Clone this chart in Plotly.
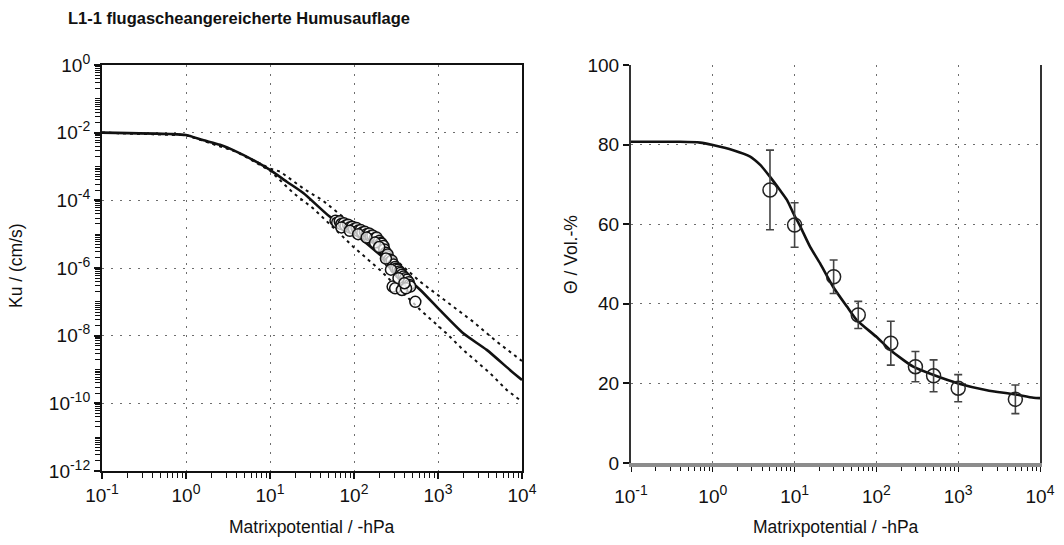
import numpy as np
import plotly.graph_objects as go

# ---------------- data ----------------
# Unsaturated conductivity Ku(h): fitted curve and its two confidence bounds (log10 values)
ku_fit_log_h = [-1.00, -0.19, 0.00, 0.20, 0.405, 0.60, 0.80, 1.00, 1.20, 1.40, 1.71, 2.00, 2.40, 2.79, 3.02, 3.30, 3.58, 3.86, 4.00]
ku_fit_log_k = [-2.00, -2.04, -2.07, -2.22, -2.36, -2.56, -2.81, -3.10, -3.45, -3.79, -4.48, -4.97, -5.80, -6.65, -7.24, -7.93, -8.42, -9.02, -9.31]

ku_upper_log_h = [-1.00, 0.00, 0.60, 1.00, 1.12, 1.42, 1.62, 2.00, 2.40, 2.79, 3.10, 3.42, 3.70, 3.94, 4.00]
ku_upper_log_k = [-2.00, -2.07, -2.56, -3.06, -3.15, -3.69, -3.99, -4.75, -5.55, -6.41, -6.99, -7.59, -8.18, -8.62, -8.75]

ku_lower_log_h = [-1.00, 0.00, 0.60, 1.00, 1.28, 1.51, 1.87, 1.99, 2.31, 2.79, 3.10, 3.30, 3.62, 3.82, 4.00]
ku_lower_log_k = [-2.00, -2.07, -2.56, -3.12, -3.79, -4.23, -5.08, -5.37, -6.06, -7.24, -7.93, -8.42, -9.11, -9.61, -9.95]

# Measured Ku points (log10 h, log10 Ku)
ku_obs_log_h = [1.78, 1.80, 1.83, 1.85, 1.88, 1.90, 1.93, 1.95, 1.98, 2.00, 2.03, 2.05, 2.08, 2.10,
                2.13, 2.15, 2.18, 2.20, 2.22, 2.25, 2.27, 2.30, 2.32, 2.33, 2.35, 2.36, 2.38, 2.39,
                2.40, 2.42, 2.43, 2.45, 2.47, 2.49, 2.50, 2.52, 2.54, 2.55, 2.57, 2.59, 2.61, 2.63,
                2.65, 2.66, 2.67, 2.46, 2.49, 2.57, 2.62, 2.73,
                1.85, 1.95, 2.05, 2.15, 2.25, 2.30, 2.38, 2.44, 2.53, 2.60]
ku_obs_log_k = [-4.60, -4.66, -4.62, -4.70, -4.68, -4.75, -4.72, -4.80, -4.78, -4.85, -4.82, -4.90, -4.88, -4.95,
                -4.93, -5.00, -4.98, -5.06, -5.04, -5.12, -5.10, -5.20, -5.26, -5.28, -5.35, -5.45, -5.55, -5.65,
                -5.60, -5.75, -5.82, -5.78, -5.90, -5.97, -6.02, -6.05, -6.10, -6.15, -6.20, -6.25, -6.30, -6.35,
                -6.42, -6.50, -6.55, -6.55, -6.60, -6.65, -6.60, -7.00,
                -4.80, -4.90, -5.00, -5.10, -5.25, -5.38, -5.72, -6.05, -6.30, -6.45]

# Water retention curve theta(h)
theta_fit_log_h = [-1.00, -0.40, -0.155, 0.00, 0.25, 0.457, 0.58, 0.70, 0.82, 0.906, 0.995, 1.07, 1.19,
                   1.31, 1.47, 1.64, 1.76, 2.00, 2.17, 2.45, 2.70, 3.00, 3.35, 3.68, 3.92, 4.00]
theta_fit = [80.7, 80.7, 80.5, 79.9, 78.6, 77.0, 74.9, 71.9, 68.6, 66.1, 62.3, 59.4, 54.3,
             50.2, 44.3, 39.3, 35.9, 31.7, 28.4, 24.2, 22.1, 20.0, 18.3, 17.3, 16.4, 16.3]

theta_obs_h = [5, 10, 30, 60, 150, 300, 500, 1000, 5000]
theta_obs = [68.6, 59.8, 46.8, 37.2, 30.1, 24.2, 21.9, 18.8, 16.0]
theta_err = [10.0, 5.6, 4.2, 3.4, 5.5, 3.8, 4.0, 3.4, 3.6]

# tick labels
x_tickvals = [0.1, 1, 10, 100, 1000, 10000]
x_exponents = ["-1", "0", "1", "2", "3", "4"]
ku_tickvals = [1, 1e-2, 1e-4, 1e-6, 1e-8, 1e-10, 1e-12]
ku_exponents = ["0", "-2", "-4", "-6", "-8", "-10", "-12"]
theta_tickvals = [0, 20, 40, 60, 80, 100]

# ---------------- figure ----------------
W, H = 1064, 545
FONT = "Liberation Sans, Arial, sans-serif"
INK = "#111111"


def px_x(p):
    return p / W


def px_y(p):
    return 1 - p / H


def power_label(exp):
    return "10<sup><span style='font-size:14px'>" + exp + "</span></sup>"


x_ticktext = [power_label(e) for e in x_exponents]
ku_ticktext = [power_label(e) for e in ku_exponents]

left_dom_x = [px_x(102), px_x(522)]
left_dom_y = [px_y(471), px_y(65)]
right_dom_x = [px_x(631), px_x(1040)]
right_dom_y = [px_y(463), px_y(65)]

x_minor = [d * 10.0 ** e for e in range(-1, 4) for d in range(2, 10)]
ku_minor = [d * 10.0 ** e for e in range(-12, 0) for d in range(1, 10)]

GRID = dict(showgrid=True, gridcolor="#6e6e6e", gridwidth=1.4, griddash="2px,7px")

fig = go.Figure()


def p10(v):
    return list(10.0 ** np.asarray(v))


dash_line = dict(color=INK, width=2, dash="3px,4px")
fig.add_trace(go.Scatter(x=p10(ku_upper_log_h), y=p10(ku_upper_log_k), mode="lines",
                         line=dash_line, xaxis="x", yaxis="y", showlegend=False))
fig.add_trace(go.Scatter(x=p10(ku_lower_log_h), y=p10(ku_lower_log_k), mode="lines",
                         line=dash_line, xaxis="x", yaxis="y", showlegend=False))
fig.add_trace(go.Scatter(x=p10(ku_fit_log_h), y=p10(ku_fit_log_k), mode="lines",
                         line=dict(color=INK, width=2.6, shape="spline", smoothing=0.6),
                         xaxis="x", yaxis="y", showlegend=False))
fig.add_trace(go.Scatter(x=p10(ku_obs_log_h), y=p10(ku_obs_log_k), mode="markers",
                         marker=dict(symbol="circle", size=11, color="rgba(255,255,255,0.7)",
                                     line=dict(color=INK, width=1.5)),
                         xaxis="x", yaxis="y", showlegend=False))

fig.add_trace(go.Scatter(x=p10(theta_fit_log_h), y=theta_fit, mode="lines",
                         line=dict(color=INK, width=2.6, shape="spline", smoothing=0.6),
                         xaxis="x2", yaxis="y2", showlegend=False))
fig.add_trace(go.Scatter(x=theta_obs_h, y=theta_obs, mode="markers",
                         marker=dict(symbol="circle-open", size=14, color="#222222",
                                     line=dict(width=1.5)),
                         error_y=dict(type="data", array=theta_err, color="#444444",
                                      thickness=1.6, width=4),
                         xaxis="x2", yaxis="y2", showlegend=False))

tickfont = dict(family=FONT, size=19, color=INK)

fig.update_layout(
    width=W, height=H,
    margin=dict(l=0, r=0, t=0, b=0, autoexpand=False),
    paper_bgcolor="white", plot_bgcolor="white",
    font=dict(family=FONT, color=INK),
    # left panel
    xaxis=dict(type="log", range=[-1, 4], domain=left_dom_x, anchor="y", automargin=False,
               showline=True, linecolor=INK, linewidth=2, mirror=True,
               ticks="outside", ticklen=6, tickwidth=1.5, tickcolor=INK,
               tickmode="array", tickvals=x_tickvals, ticktext=x_ticktext, tickfont=tickfont,
               minor=dict(ticks="outside", ticklen=5, tickwidth=1.3, tickcolor=INK,
                          tickmode="array", tickvals=x_minor, showgrid=False),
               zeroline=False, **GRID),
    yaxis=dict(type="log", range=[-12, 0], domain=left_dom_y, anchor="x", automargin=False,
               showline=True, linecolor=INK, linewidth=2, mirror=True,
               ticks="outside", ticklen=6, tickwidth=1.5, tickcolor=INK,
               tickmode="array", tickvals=ku_tickvals, ticktext=ku_ticktext, tickfont=tickfont,
               minor=dict(ticks="outside", ticklen=5, tickwidth=1.3, tickcolor=INK,
                          tickmode="array", tickvals=ku_minor, showgrid=False),
               zeroline=False, **GRID),
    xaxis3=dict(type="log", range=[-1, 4], overlaying="x", anchor="y", showline=False, automargin=False,
                ticks="inside", ticklen=6, tickwidth=1.5, tickcolor=INK,
                tickmode="array", tickvals=x_tickvals, showticklabels=False, showgrid=False,
                minor=dict(ticks="inside", ticklen=5, tickwidth=1.3, tickcolor=INK,
                           tickmode="array", tickvals=x_minor, showgrid=False),
                zeroline=False),
    yaxis3=dict(type="log", range=[-12, 0], overlaying="y", anchor="x", showline=False, automargin=False,
                ticks="inside", ticklen=6, tickwidth=1.5, tickcolor=INK,
                tickmode="array", tickvals=ku_tickvals, showticklabels=False, showgrid=False,
                minor=dict(ticks="inside", ticklen=5, tickwidth=1.3, tickcolor=INK,
                           tickmode="array", tickvals=ku_minor, showgrid=False),
                zeroline=False),
    # right panel
    xaxis2=dict(type="log", range=[-1, 4], domain=right_dom_x, anchor="y2", automargin=False,
                showline=True, linecolor="#8c8c8c", linewidth=3.5, mirror=False,
                ticks="outside", ticklen=5, tickwidth=1.3, tickcolor=INK,
                tickmode="array", tickvals=x_tickvals, ticktext=x_ticktext, tickfont=tickfont,
                ticklabelstandoff=8,
                minor=dict(ticks="outside", ticklen=4, tickwidth=1.2, tickcolor=INK,
                           tickmode="array", tickvals=x_minor, showgrid=False),
                zeroline=False, **GRID),
    yaxis2=dict(range=[0, 100], domain=right_dom_y, anchor="x2", automargin=False,
                showline=True, linecolor="#333333", linewidth=2, mirror=True,
                ticks="outside", ticklen=6, tickwidth=1.5, tickcolor=INK,
                tickmode="array", tickvals=theta_tickvals, tickfont=tickfont,
                zeroline=False, **GRID),
    xaxis4=dict(type="log", range=[-1, 4], overlaying="x2", anchor="y2", showline=False, automargin=False,
                ticks="inside", ticklen=5, tickwidth=1.3, tickcolor=INK,
                tickmode="array", tickvals=x_tickvals, showticklabels=False, showgrid=False,
                minor=dict(ticks="inside", ticklen=4, tickwidth=1.2, tickcolor=INK,
                           tickmode="array", tickvals=x_minor, showgrid=False),
                zeroline=False),
    xaxis5=dict(type="log", range=[-1, 4], overlaying="x2", anchor="y2", side="top", automargin=False,
                showline=True, linecolor="#333333", linewidth=1.6, ticks="",
                showticklabels=False, showgrid=False, zeroline=False),
)

axis_title_font = dict(family=FONT, size=17.5, color=INK)
fig.add_annotation(text="<b>L1-1 flugascheangereicherte Humusauflage</b>",
                   xref="paper", yref="paper", x=px_x(66), y=px_y(18),
                   xanchor="left", yanchor="middle", showarrow=False,
                   font=dict(family=FONT, size=16.5, color=INK))
fig.add_annotation(text="Ku / (cm/s)", xref="paper", yref="paper", x=px_x(16), y=px_y(266),
                   textangle=-90, showarrow=False, xanchor="center", yanchor="middle", font=axis_title_font)
fig.add_annotation(text="Matrixpotential / -hPa", xref="paper", yref="paper", x=px_x(312), y=px_y(527),
                   showarrow=False, xanchor="center", yanchor="middle", font=axis_title_font)
fig.add_annotation(text="Matrixpotential / -hPa", xref="paper", yref="paper", x=px_x(836), y=px_y(527),
                   showarrow=False, xanchor="center", yanchor="middle", font=axis_title_font)
fig.add_annotation(text="Θ / Vol.-%", xref="paper", yref="paper", x=px_x(571), y=px_y(255),
                   textangle=-90, showarrow=False, xanchor="center", yanchor="middle", font=axis_title_font)

fig.write_html("out.html")
